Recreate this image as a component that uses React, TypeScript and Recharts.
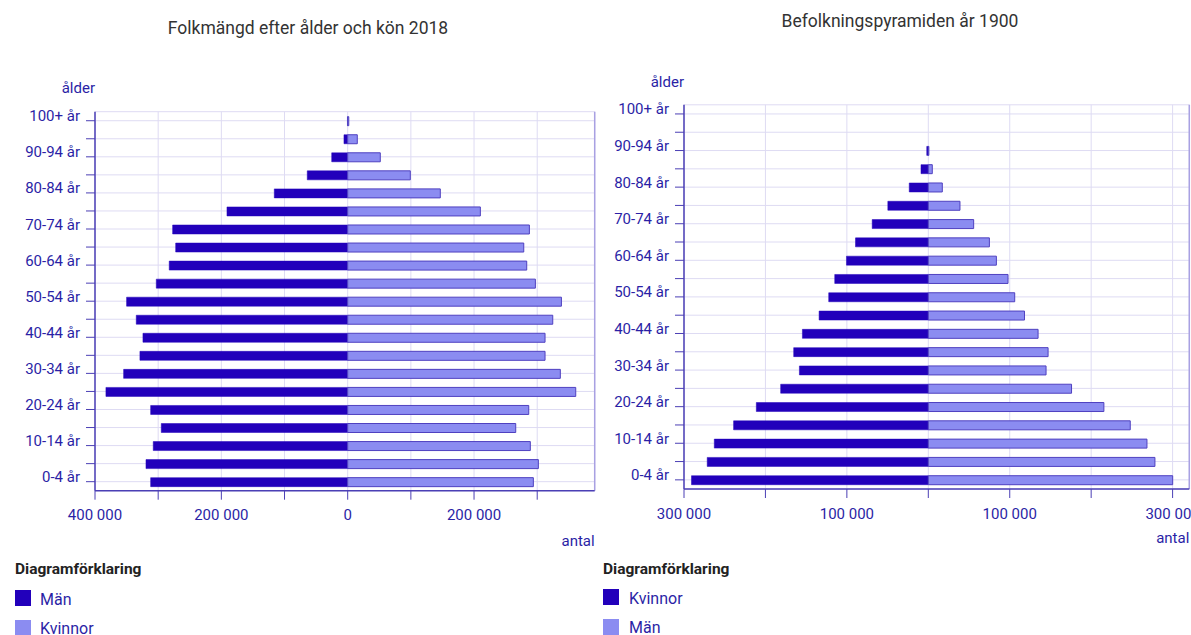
import React from 'react';
import { BarChart, Bar, XAxis, YAxis, CartesianGrid, ReferenceLine } from 'recharts';

const ageGroups = [
  '0-4 år', '5-9 år', '10-14 år', '15-19 år', '20-24 år', '25-29 år', '30-34 år',
  '35-39 år', '40-44 år', '45-49 år', '50-54 år', '55-59 år', '60-64 år', '65-69 år',
  '70-74 år', '75-79 år', '80-84 år', '85-89 år', '90-94 år', '95-99 år', '100+ år',
];
const labeledAges = [
  '0-4 år', '10-14 år', '20-24 år', '30-34 år', '40-44 år', '50-54 år',
  '60-64 år', '70-74 år', '80-84 år', '90-94 år', '100+ år',
];

// 2018 (left chart): Män to the left, Kvinnor to the right
const men2018 = [
  311900, 319300, 307800, 295100, 311900, 382700, 354700, 328900, 324100, 334700,
  350000, 303000, 282500, 272300, 277100, 191100, 116200, 64000, 25300, 5900, 400,
];
const women2018 = [
  293900, 301800, 289100, 266000, 286600, 361000, 336600, 312400, 312400, 324600,
  338300, 297100, 283400, 278700, 287600, 210000, 146600, 99100, 51600, 15200, 1700,
];

// 1900 (right chart): Kvinnor to the left, Män to the right
const women1900 = [
  290800, 271500, 262800, 239100, 211200, 181300, 158300, 165300, 154600, 134100,
  122300, 114900, 100500, 89400, 68900, 49700, 23400, 9000, 1900, 0, 0,
];
const men1900 = [
  300100, 278300, 268500, 248000, 215600, 175900, 144600, 147100, 134800, 118100,
  106100, 97900, 83600, 75000, 55700, 38900, 17200, 4900, 700, 0, 0,
];

const ticks2018 = [-400000, -300000, -200000, -100000, 0, 100000, 200000, 300000];
const labeledTicks2018 = [-400000, -200000, 0, 200000];
const ticks1900 = [-300000, -200000, -100000, 0, 100000, 200000, 300000];
const labeledTicks1900 = [-300000, -100000, 100000, 300000];

const title2018 = 'Folkmängd efter ålder och kön 2018';
const title1900 = 'Befolkningspyramiden år 1900';

const FONT = 'Roboto, "Noto Sans", sans-serif';
const AXIS = '#4b3fb5';
const TEXT = '#2b1fa6';
const GRID = '#dedbf3';
const BORDER_R = '#a8a1e2';
const DARK = '#2200bb';
const LIGHT = '#8b8cf1';
const LIGHT_STROKE = '#4f40c0';

const fmt = (v: number) => String(Math.abs(v)).replace(/\B(?=(\d{3})+(?!\d))/g, ' ');

const data2018 = ageGroups.map((age, i) => ({ age, left: -men2018[i], right: women2018[i] }));
const data1900 = ageGroups.map((age, i) => ({ age, left: -women1900[i], right: men1900[i] }));

type PyramidProps = {
  data: { age: string; left: number; right: number }[];
  width: number;
  height: number;
  yAxisWidth: number;
  margin: { top: number; right: number; bottom: number; left: number };
  domain: [number, number];
  ticks: number[];
  labeled: number[];
};

function Pyramid({ data, width, height, yAxisWidth, margin, domain, ticks, labeled }: PyramidProps) {
  const XTick = (props: any) => {
    const { x, y, payload } = props;
    if (!labeled.includes(payload.value)) return <g />;
    return (
      <text x={x} y={y + 18.5} textAnchor="middle" fontSize={15} fontFamily={FONT} fill={TEXT}>
        {fmt(payload.value)}
      </text>
    );
  };
  const YTick = (props: any) => {
    const { x, y, payload } = props;
    if (!labeledAges.includes(payload.value)) return <g />;
    return (
      <text x={x} y={y + 0.5} textAnchor="end" fontSize={15} fontFamily={FONT} fill={TEXT}>
        {payload.value}
      </text>
    );
  };
  return (
    <BarChart
      width={width}
      height={height}
      data={data}
      layout="vertical"
      margin={margin}
      stackOffset="sign"
      barSize={9}
    >
      <CartesianGrid stroke={GRID} strokeWidth={1} />
      <XAxis
        type="number"
        domain={domain}
        ticks={ticks}
        interval={0}
        allowDataOverflow
        height={30}
        tickSize={9}
        tickMargin={2}
        axisLine={{ stroke: AXIS, strokeWidth: 1.5 }}
        tickLine={{ stroke: AXIS }}
        tick={XTick}
      />
      <XAxis
        xAxisId="top"
        orientation="top"
        type="number"
        domain={domain}
        allowDataOverflow
        height={0}
        tick={false}
        tickLine={false}
        axisLine={{ stroke: AXIS, strokeWidth: 1.5 }}
      />
      <YAxis
        type="category"
        dataKey="age"
        reversed
        width={yAxisWidth}
        interval={0}
        tickSize={9}
        tickMargin={6}
        axisLine={{ stroke: AXIS, strokeWidth: 1.5 }}
        tickLine={{ stroke: AXIS }}
        tick={YTick}
      />
      <ReferenceLine x={domain[1]} stroke={BORDER_R} strokeWidth={1.5} />
      <Bar dataKey="left" stackId="a" fill={DARK} stroke={DARK} strokeWidth={0.5} isAnimationActive={false} />
      <Bar dataKey="right" stackId="a" fill={LIGHT} stroke={LIGHT_STROKE} strokeWidth={1} isAnimationActive={false} />
    </BarChart>
  );
}

export default function App() {
  return (
    <div style={{ position: 'absolute', left: 0, top: 0, width: 1191, height: 635, overflow: 'hidden', background: '#fff', fontFamily: FONT }}>
      <div style={{ position: 'absolute', left: 0, top: 0 }}>
        <Pyramid
          data={data2018}
          width={600}
          height={530}
          yAxisWidth={95}
          margin={{ top: 111.7, right: 5.3, bottom: 9.3, left: 0 }}
          domain={[-400000, 391000]}
          ticks={ticks2018}
          labeled={labeledTicks2018}
        />
      </div>
      <div style={{ position: 'absolute', left: 600, top: 0 }}>
        <Pyramid
          data={data1900}
          width={591}
          height={530}
          yAxisWidth={84}
          margin={{ top: 104.8, right: 1.7, bottom: 11, left: 0 }}
          domain={[-300000, 320500]}
          ticks={ticks1900}
          labeled={labeledTicks1900}
        />
      </div>
      <svg width={1191} height={635} style={{ position: 'absolute', left: 0, top: 0, pointerEvents: 'none' }}>
        <text x={308} y={34} textAnchor="middle" fontSize={17.5} fontFamily={FONT} fill="#333">{title2018}</text>
        <text x={900} y={27.3} textAnchor="middle" fontSize={17.5} fontFamily={FONT} fill="#333">{title1900}</text>

        <text x={95} y={93} textAnchor="end" fontSize={15} fontFamily={FONT} fill={TEXT}>ålder</text>
        <text x={684} y={86.5} textAnchor="end" fontSize={15} fontFamily={FONT} fill={TEXT}>ålder</text>
        <text x={594.7} y={546} textAnchor="end" fontSize={15} fontFamily={FONT} fill={TEXT}>antal</text>
        <text x={1189.3} y={543.3} textAnchor="end" fontSize={15} fontFamily={FONT} fill={TEXT}>antal</text>

        <text x={15} y={574} fontSize={15.5} fontWeight={700} fontFamily={FONT} fill="#222">Diagramförklaring</text>
        <rect x={15} y={590} width={16} height={16} fill={DARK} />
        <text x={40} y={605} fontSize={16} fontFamily={FONT} fill={TEXT}>Män</text>
        <rect x={15} y={620} width={16} height={16} fill={LIGHT} />
        <text x={40} y={634} fontSize={16} fontFamily={FONT} fill={TEXT}>Kvinnor</text>

        <text x={603} y={574} fontSize={15.5} fontWeight={700} fontFamily={FONT} fill="#222">Diagramförklaring</text>
        <rect x={603} y={589} width={16} height={16} fill={DARK} />
        <text x={629} y={604} fontSize={16} fontFamily={FONT} fill={TEXT}>Kvinnor</text>
        <rect x={603} y={619} width={16} height={16} fill={LIGHT} />
        <text x={629} y={633} fontSize={16} fontFamily={FONT} fill={TEXT}>Män</text>
      </svg>
    </div>
  );
}
